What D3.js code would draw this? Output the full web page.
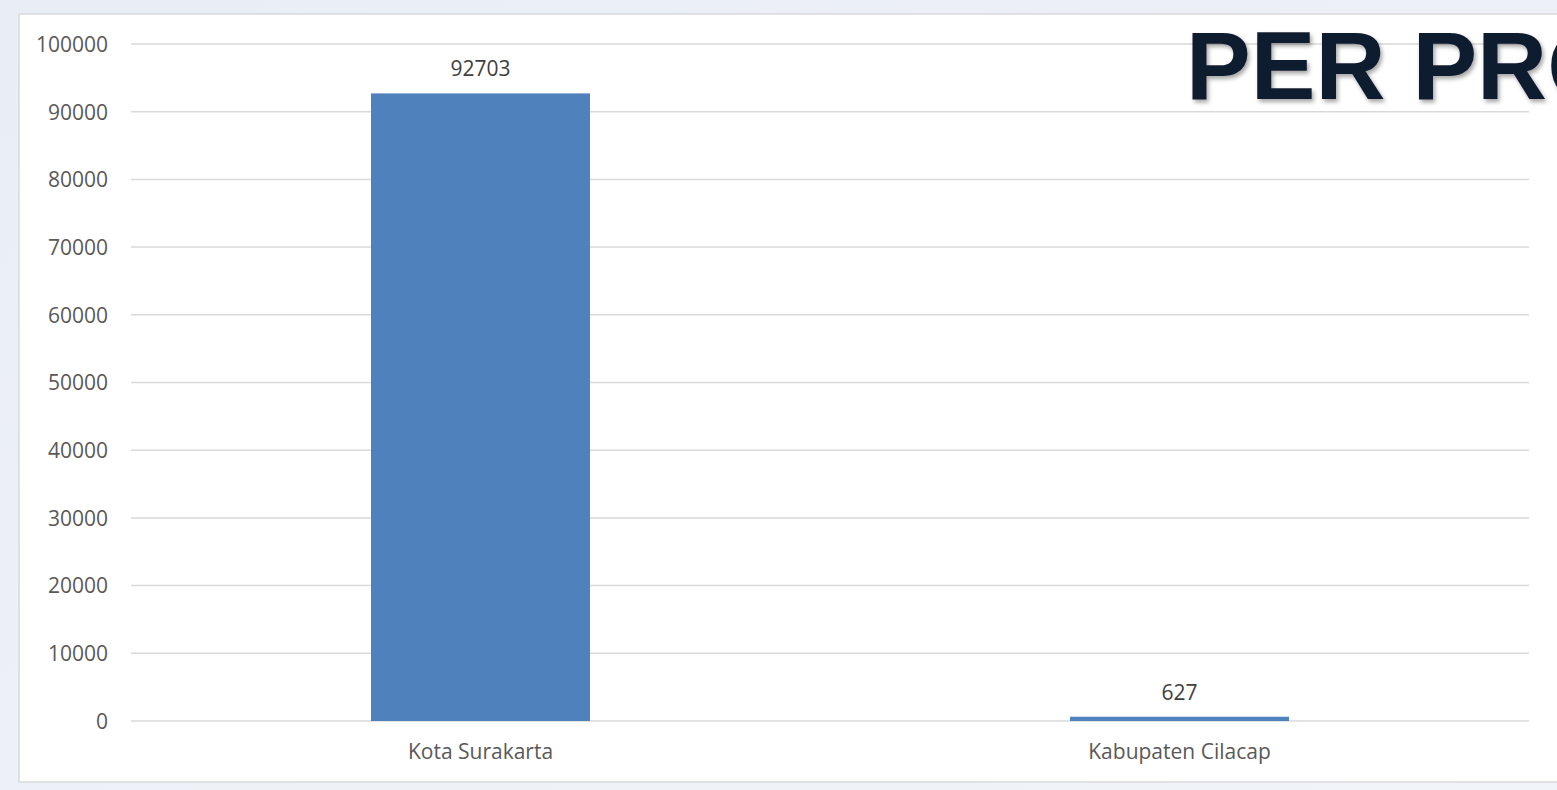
<!DOCTYPE html>
<html><head><meta charset="utf-8">
<script src="https://cdn.jsdelivr.net/npm/d3@7"></script>
<style>
html,body{margin:0;padding:0;overflow:hidden;background:#eef2f7;}
svg{display:block;}
</style></head>
<body>
<svg id="chart" width="1557" height="790"></svg>
<script>
const categories = ["Kota Surakarta", "Kabupaten Cilacap"];
const values = [92703, 627];
const yTicks = [0, 10000, 20000, 30000, 40000, 50000, 60000, 70000, 80000, 90000, 100000];
const titleText = "PER PROVINSI";

const W = 1557, H = 790;
const svg = d3.select("#chart");
const defs = svg.append("defs");
const grad = defs.append("linearGradient").attr("id","bg").attr("x1",0).attr("y1",0).attr("x2",1).attr("y2",1);
grad.append("stop").attr("offset","0%").attr("stop-color","#e9eef5");
grad.append("stop").attr("offset","100%").attr("stop-color","#f1f4f8");
const filt = defs.append("filter").attr("id","shadow").attr("x","-5%").attr("y","-5%").attr("width","120%").attr("height","130%");
filt.append("feDropShadow").attr("dx",2).attr("dy",3).attr("stdDeviation",2).attr("flood-color","#000").attr("flood-opacity",0.35);

svg.append("rect").attr("width",W).attr("height",H).attr("fill","url(#bg)");
// chart area box
svg.append("rect").attr("x",19).attr("y",14).attr("width",W).attr("height",768)
  .attr("fill","#ffffff").attr("stroke","#d9d9d9").attr("stroke-width",1.5);

const x = d3.scaleBand().domain(categories).range([131,1529]).paddingInner(0.6867).paddingOuter(0.6867/2);
const y = d3.scaleLinear().domain([0,100000]).range([721,44]);

const font = "'Open Sans', sans-serif";

// gridlines
svg.append("g").selectAll("line").data(yTicks).join("line")
  .attr("x1",131).attr("x2",1529)
  .attr("y1",d=>y(d)).attr("y2",d=>y(d))
  .attr("stroke","#d9d9d9").attr("stroke-width",1.5);

// y axis labels
const yAxis = d3.axisLeft(y).tickValues(yTicks).tickSize(0).tickPadding(0).tickFormat(d3.format("d"));
const gy = svg.append("g").attr("transform","translate(108,0)").call(yAxis);
gy.select(".domain").remove();
gy.selectAll("text").attr("font-family",font).attr("font-size",21).attr("fill","#595959").attr("dy","0.35em");

// bars
svg.append("g").selectAll("rect").data(values).join("rect")
  .attr("x",(d,i)=>x(categories[i]))
  .attr("width",x.bandwidth())
  .attr("y",d=>y(d))
  .attr("height",d=>y(0)-y(d))
  .attr("fill","#4f81bd");

// value labels
svg.append("g").selectAll("text").data(values).join("text")
  .attr("x",(d,i)=>x(categories[i])+x.bandwidth()/2)
  .attr("y",d=>y(d)-17)
  .attr("text-anchor","middle")
  .attr("font-family",font).attr("font-size",21).attr("fill","#404040")
  .text(d=>d);

// x axis labels
const xAxis = d3.axisBottom(x).tickSize(0).tickPadding(0);
const gx = svg.append("g").attr("transform","translate(0,752)").call(xAxis);
gx.select(".domain").remove();
gx.selectAll("text").attr("font-family",font).attr("font-size",21).attr("fill","#595959").attr("dy","0.35em");

// title overlay (cut off at the right edge, as in the reference)
svg.append("text").attr("x",1186).attr("y",99)
  .attr("font-family","'Liberation Sans', Arial, sans-serif").attr("font-weight","bold")
  .attr("font-size",97).attr("fill","#111a2e").attr("filter","url(#shadow)")
  .text(titleText);
</script>
</body></html>
